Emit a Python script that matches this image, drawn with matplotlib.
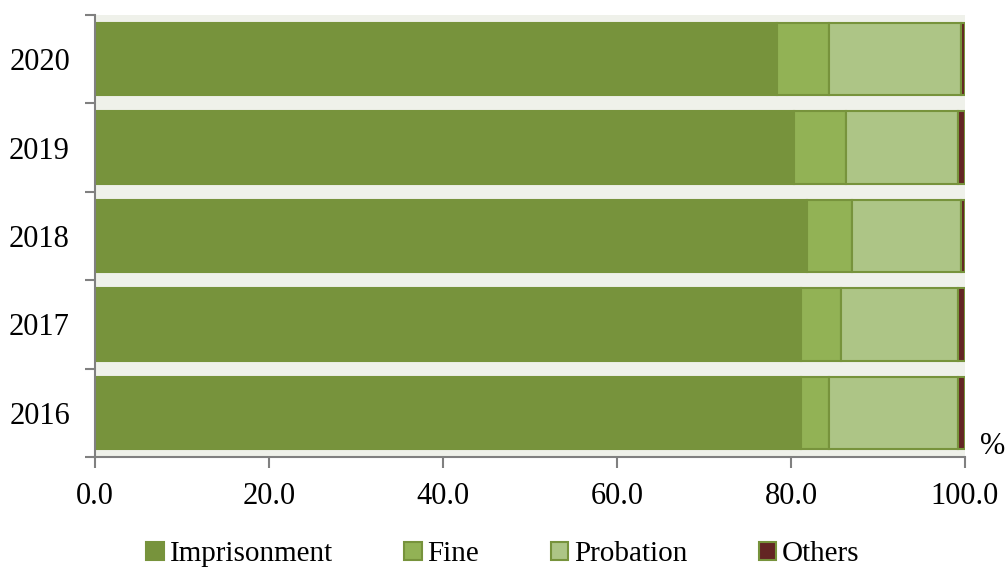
import numpy as np
import matplotlib.pyplot as plt

years = ['2016', '2017', '2018', '2019', '2020']
imprisonment = [81.2, 81.2, 81.9, 80.4, 78.4]
fine = [3.2, 4.5, 5.1, 5.9, 6.0]
probation = [14.8, 13.5, 12.5, 12.9, 15.1]
others = [0.8, 0.8, 0.5, 0.8, 0.5]
series_names = ['Imprisonment', 'Fine', 'Probation', 'Others']
colors = ['#77933C', '#92B255', '#ADC586', '#632523']
xticks = [0, 20, 40, 60, 80, 100]

plt.rcParams['font.family'] = ['Liberation Serif', 'DejaVu Serif']

fig = plt.figure(figsize=(10.06, 5.73), dpi=100)
ax = fig.add_axes([0.0944, 0.2024, 0.8648, 0.7714])
ax.set_facecolor('#EFF1EA')

y = np.arange(len(years))
left = np.zeros(len(years))
for vals, name, c in zip([imprisonment, fine, probation, others], series_names, colors):
    ax.barh(y, vals, left=left, height=0.82, color=c, edgecolor='#77933C',
            linewidth=1.5, label=name)
    left += np.array(vals)

ax.set_xlim(0, 100)
ax.set_ylim(-0.5, len(years) - 0.5)
ax.set_xticks(xticks)
ax.set_xticklabels(['%.1f' % v for v in xticks], fontsize=22)
ax.set_yticks(np.arange(len(years) + 1) - 0.5)
ax.set_yticklabels([])
ax.set_yticks(y, minor=True)
ax.set_yticklabels(years, minor=True, fontsize=22)
ax.tick_params(axis='y', which='minor', length=0, pad=18)
ax.tick_params(axis='y', which='major', length=7, width=1.5, color='#808080')
ax.tick_params(axis='x', length=8, width=1.5, color='#808080', pad=10)

for s in ['top', 'right']:
    ax.spines[s].set_visible(False)
for s in ['left', 'bottom']:
    ax.spines[s].set_color('#808080')
    ax.spines[s].set_linewidth(1.5)

fig.text(0.987, 0.22, '%', fontsize=22, ha='center', va='center')

fig.legend(loc='lower center', bbox_to_anchor=(0.5, -0.036), ncol=4, frameon=False,
           fontsize=21, handlelength=0.6, handleheight=0.6, handletextpad=0.2,
           columnspacing=2.45)

fig.savefig('out.png', dpi=100)
